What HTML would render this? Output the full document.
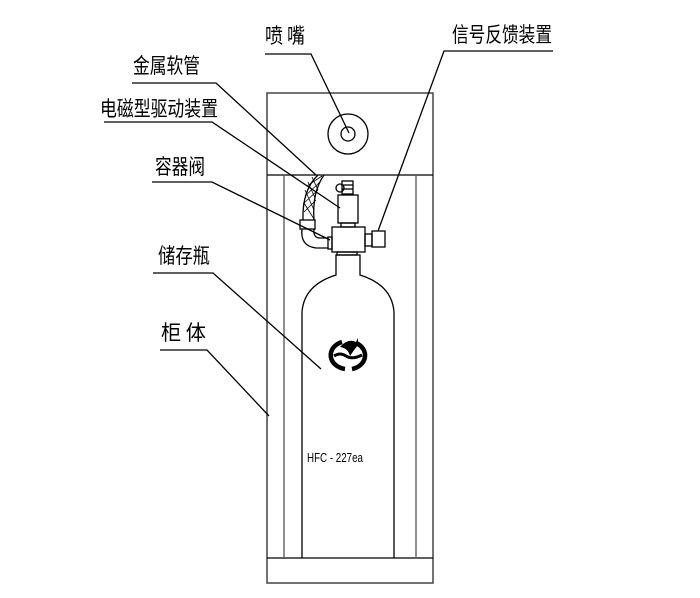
<!DOCTYPE html>
<html><head><meta charset="utf-8"><style>
html,body{margin:0;padding:0;background:#fff;}
svg{display:block;}
text{font-family:"Liberation Sans","Noto Sans CJK SC",sans-serif;}
.cn{font-family:"Noto Sans CJK SC","WenQuanYi Zen Hei",sans-serif;font-size:21px;font-weight:400;}
</style></head><body>
<svg width="700" height="598" viewBox="0 0 700 598" xmlns="http://www.w3.org/2000/svg">
<g fill="none" stroke="#000" stroke-width="1.3">
<rect x="267" y="93" width="166" height="490" stroke="#444" stroke-width="1.5"/>
<line x1="267" y1="175" x2="433" y2="175"/>
<line x1="267" y1="558" x2="433" y2="558"/>
<line x1="284" y1="175" x2="284" y2="558" stroke="#555"/>
<line x1="416" y1="175" x2="416" y2="558" stroke="#555"/>
<circle cx="348" cy="134" r="20"/>
<circle cx="348" cy="134" r="7"/>
<path d="M302 558 V312 Q304 285 336 275 V255 H360 V275 Q392 285 394 312 V558"/>
<rect x="337" y="252" width="20" height="3"/>
<rect x="332" y="227" width="33" height="25"/>
<rect x="365" y="234" width="7" height="12"/>
<rect x="372" y="231" width="13" height="16"/>
<rect x="328" y="237" width="4" height="12"/>
<rect x="338" y="195" width="20" height="28"/>
<rect x="341" y="223" width="14" height="4"/>
<rect x="342" y="181" width="11" height="13"/>
<line x1="342" y1="185" x2="353" y2="185"/><line x1="342" y1="189" x2="353" y2="189"/>
<circle cx="340" cy="188" r="4"/>
<rect x="300" y="220" width="15" height="9"/>
<path d="M302 229 Q300 246 316 248 H328 M314 229 Q313 238 320 238 H328"/>
<path d="M303 220 Q302 190 318 175 M314 220 Q312 192 324 175"/>
<path d="M304 212 L316 200 M303 204 L318 190 M305 196 L320 182 M307 186 L322 176 M304 203 L314 219 M305 190 L314 210 M308 182 L315 198 M312 177 L318 190" stroke-width="0.8"/>
<polyline points="265,54 311,54 349,133"/>
<polyline points="553,51 444,51 378,231"/>
<polyline points="132,83 216,83 316,175"/>
<polyline points="104,122 212,122 340,208"/>
<polyline points="152,182 212,182 330,240"/>
<polyline points="153,273 213,273 321,369"/>
<polyline points="160,350 207,350 269,416"/>
</g>
<g fill="none" stroke="#000" stroke-width="4.5">
<path d="M342 342 A17 14 0 0 0 345 369"/>
<path d="M356 343 A17 14 0 0 1 352 369"/>
</g>
<path d="M334 356 Q340 352 346 356 Q352 360 362 355" stroke="#000" stroke-width="3" fill="none"/>
<path d="M340 347 Q348 338 356 342 L358 338 L358 345 Q354 350 350 356 Q348 348 340 347 Z" fill="#000"/>
<text class="cn" x="265" y="43" textLength="40" lengthAdjust="spacingAndGlyphs">喷 嘴</text>
<text class="cn" x="452" y="42" textLength="100" lengthAdjust="spacingAndGlyphs">信号反馈装置</text>
<text class="cn" x="133" y="73" textLength="67" lengthAdjust="spacingAndGlyphs">金属软管</text>
<text class="cn" x="100" y="116" textLength="118" lengthAdjust="spacingAndGlyphs">电磁型驱动装置</text>
<text class="cn" x="155" y="174" textLength="50" lengthAdjust="spacingAndGlyphs">容器阀</text>
<text class="cn" x="158" y="263" textLength="52" lengthAdjust="spacingAndGlyphs">储存瓶</text>
<text class="cn" x="161" y="340" textLength="45" lengthAdjust="spacingAndGlyphs">柜 体</text>
<text x="307" y="462" font-size="12.5" textLength="56" lengthAdjust="spacingAndGlyphs">HFC - 227ea</text>
</svg>
</body></html>
